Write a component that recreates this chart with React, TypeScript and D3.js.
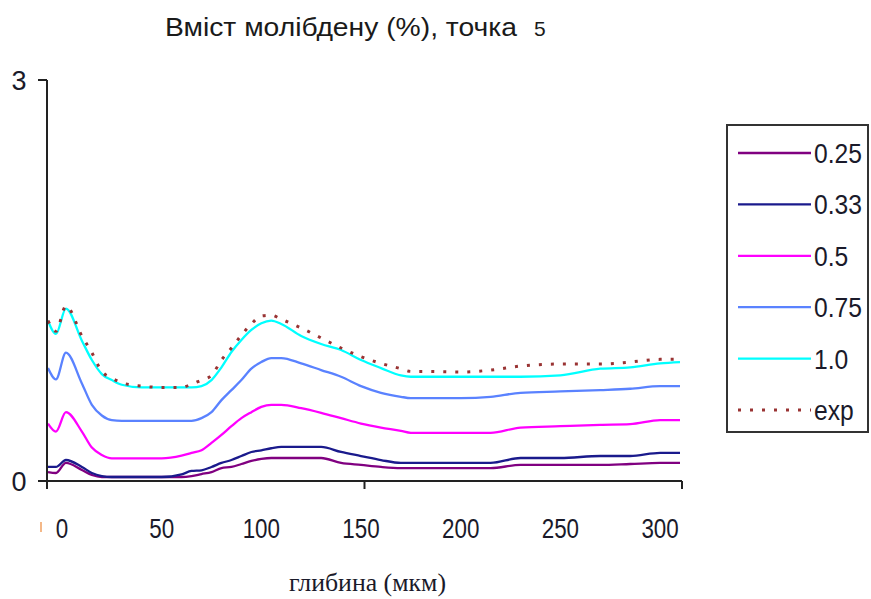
import React from "react";
import * as d3 from "d3";

const depth = [-7, -3, 2, 10, 15, 20, 25, 30, 40, 50, 60, 65, 70, 75, 80, 85, 90, 95, 100, 105, 110, 120, 130, 140, 150, 160, 170, 175, 180, 200, 215, 230, 250, 270, 285, 300, 310];

const s025 = [0.067, 0.06, 0.135, 0.082, 0.045, 0.03, 0.03, 0.03, 0.03, 0.03, 0.03, 0.037, 0.052, 0.067, 0.097, 0.105, 0.127, 0.15, 0.165, 0.172, 0.172, 0.172, 0.172, 0.135, 0.12, 0.105, 0.097, 0.097, 0.097, 0.097, 0.097, 0.12, 0.12, 0.12, 0.127, 0.135, 0.135];
const s033 = [0.105, 0.105, 0.157, 0.105, 0.06, 0.037, 0.03, 0.03, 0.03, 0.03, 0.05, 0.075, 0.08, 0.105, 0.135, 0.157, 0.187, 0.217, 0.23, 0.245, 0.255, 0.255, 0.255, 0.217, 0.187, 0.157, 0.135, 0.135, 0.135, 0.135, 0.135, 0.172, 0.172, 0.187, 0.187, 0.21, 0.21];
const s05 = [0.43, 0.37, 0.515, 0.37, 0.25, 0.195, 0.17, 0.17, 0.17, 0.17, 0.19, 0.21, 0.23, 0.285, 0.345, 0.41, 0.47, 0.515, 0.555, 0.57, 0.57, 0.545, 0.51, 0.47, 0.43, 0.40, 0.375, 0.36, 0.36, 0.36, 0.36, 0.40, 0.41, 0.42, 0.425, 0.455, 0.455];
const s075 = [0.845, 0.76, 0.96, 0.73, 0.57, 0.49, 0.455, 0.45, 0.45, 0.45, 0.45, 0.45, 0.47, 0.515, 0.605, 0.68, 0.755, 0.84, 0.89, 0.92, 0.92, 0.88, 0.83, 0.78, 0.71, 0.66, 0.63, 0.62, 0.62, 0.62, 0.63, 0.66, 0.67, 0.68, 0.69, 0.71, 0.71];
const s10 = [1.20, 1.10, 1.29, 1.05, 0.905, 0.80, 0.755, 0.72, 0.70, 0.70, 0.70, 0.70, 0.71, 0.755, 0.85, 0.965, 1.055, 1.13, 1.18, 1.20, 1.175, 1.085, 1.025, 0.98, 0.905, 0.845, 0.79, 0.78, 0.78, 0.78, 0.78, 0.78, 0.79, 0.84, 0.85, 0.88, 0.89];
const sExp = [1.20, 1.12, 1.31, 1.085, 0.96, 0.82, 0.77, 0.735, 0.71, 0.70, 0.70, 0.725, 0.755, 0.79, 0.905, 0.995, 1.09, 1.175, 1.235, 1.24, 1.21, 1.145, 1.07, 0.995, 0.93, 0.88, 0.84, 0.82, 0.82, 0.815, 0.83, 0.86, 0.875, 0.875, 0.89, 0.91, 0.91];

const seriesNames = ["0.25", "0.33", "0.5", "0.75", "1.0", "exp"];
const seriesValues = [s025, s033, s05, s075, s10, sExp];
const seriesColors = ["#800080", "#1a1a8c", "#ff00ff", "#5a82ff", "#00ffff", "#993333"];

const xTickLabels = [0, 50, 100, 150, 200, 250, 300];
const yTickLabels = [0, 3];

const title = "Вміст молібдену (%), точка";
const titleNum = "5";
const xTitle = "глибина (мкм)";

export default function App() {
  const x = d3.scaleLinear().domain([-7.5, 311]).range([47, 682]);
  const y = d3.scaleLinear().domain([0, 3]).range([481, 80]);
  const [x0, x1] = x.domain();
  const xMarks = [x0, (x0 + x1) / 2, x1];

  const line = d3
    .line<number>()
    .x((_, i) => x(depth[i]))
    .y((v) => y(v))
    .curve(d3.curveMonotoneX);

  const legendY = (i: number) => 153 + i * 51.4;

  return (
    <div style={{ position: "absolute", left: 0, top: 0 }}>
      <svg width={871} height={599} style={{ display: "block", background: "#fff" }}>
        <text x={165} y={36} fontFamily="Liberation Sans, Arial, sans-serif" fontSize={25} fill="#1a1a1a" textLength={352} lengthAdjust="spacingAndGlyphs">
          {title}
        </text>
        <text x={534} y={36} fontFamily="Liberation Sans, Arial, sans-serif" fontSize={21} fill="#1a1a1a">
          {titleNum}
        </text>

        {seriesValues.map((vals, i) => (
          <path
            key={seriesNames[i]}
            d={line(vals) || ""}
            fill="none"
            stroke={seriesColors[i]}
            strokeWidth={seriesNames[i] === "exp" ? 3 : 2.3}
            strokeDasharray={seriesNames[i] === "exp" ? "3 9" : undefined}
          />
        ))}

        <line x1={x(x0)} x2={x(x0)} y1={y(3)} y2={489} stroke="#222" strokeWidth={2} />
        <line x1={38} x2={x(x1)} y1={y(0)} y2={y(0)} stroke="#222" strokeWidth={2} />
        {yTickLabels.map((t) => (
          <line key={"yt" + t} x1={38} x2={x(x0)} y1={y(t)} y2={y(t)} stroke="#222" strokeWidth={2} />
        ))}
        {xMarks.map((m, i) => (
          <line key={"xm" + i} x1={x(m)} x2={x(m)} y1={y(0)} y2={489} stroke="#222" strokeWidth={2} />
        ))}
        {yTickLabels.map((t) => (
          <text key={"yl" + t} x={19} y={y(t) + 10} textAnchor="middle" fontFamily="Liberation Sans, Arial, sans-serif" fontSize={27} fill="#1a1a2a">
            {t}
          </text>
        ))}
        <line x1={41} x2={41} y1={522} y2={532} stroke="#f0a060" strokeWidth={1.5} />
        {xTickLabels.map((t) => (
          <text
            key={"xl" + t}
            transform={`translate(${x(t)},538) scale(0.8,1)`}
            textAnchor="middle"
            fontFamily="Liberation Sans, Arial, sans-serif"
            fontSize={28}
            fill="#1a1a2a"
          >
            {t}
          </text>
        ))}
        <text x={289} y={591} fontFamily="Liberation Serif, Times New Roman, serif" fontSize={25} fill="#1a1a2a" textLength={157} lengthAdjust="spacingAndGlyphs">
          {xTitle}
        </text>

        <rect x={727} y={125} width={141} height={307} fill="#fff" stroke="#333" strokeWidth={2} />
        {seriesNames.map((n, i) => (
          <g key={"lg" + n}>
            <line
              x1={738}
              x2={811}
              y1={legendY(i)}
              y2={legendY(i)}
              stroke={seriesColors[i]}
              strokeWidth={n === "exp" ? 3 : 2.3}
              strokeDasharray={n === "exp" ? "3 9" : undefined}
            />
            <text
              transform={`translate(814,${legendY(i) + 10}) scale(0.88,1)`}
              fontFamily="Liberation Sans, Arial, sans-serif"
              fontSize={28}
              fill="#1a1a2a"
            >
              {n}
            </text>
          </g>
        ))}
      </svg>
    </div>
  );
}
